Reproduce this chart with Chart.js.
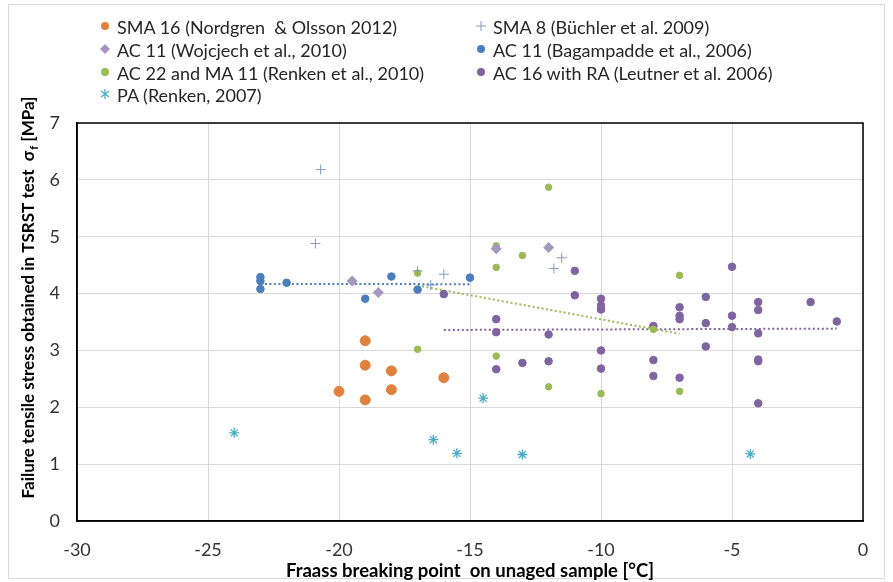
<!DOCTYPE html>
<html>
<head>
<meta charset="utf-8">
<script src="https://cdn.jsdelivr.net/npm/chart.js@4.4.0/dist/chart.umd.min.js"></script>
<style>
    body { margin: 0; background: #fff; font-family: Lato, sans-serif; }
    #wrap { position: relative; width: 893px; height: 582px; }
    #frame { position: absolute; left: 8px; top: 4px; width: 877px; height: 575px; border: 1px solid #d9d9d9; box-sizing: border-box; }
    #chart { position: absolute; left: 0; top: 0; }
    .leg { position: absolute; font-size: 18px; color: #262626; white-space: pre; line-height: 22px; }
    .leg svg { position: absolute; left: -18px; top: 4px; }
</style>
</head>
<body>
<div id="wrap">
    <div id="frame"></div>
    <canvas id="chart" width="893" height="582"></canvas>
    <div id="legend"></div>
</div>
<script>
// Series data (x = Fraass breaking point °C, y = failure stress MPa)
const sma16X = [-20, -19, -19, -19, -18, -18, -16];
const sma16Y = [2.28, 3.17, 2.74, 2.13, 2.64, 2.31, 2.52];

const sma8X = [-20.7, -20.9, -17, -16, -16.5, -11.8, -11.5];
const sma8Y = [6.18, 4.88, 4.40, 4.34, 4.15, 4.44, 4.63];

const wojcX = [-19.5, -18.5, -14, -12];
const wojcY = [4.22, 4.02, 4.79, 4.81];

const bagamX = [-23, -23, -23, -22, -19, -18, -17, -15];
const bagamY = [4.29, 4.22, 4.08, 4.19, 3.91, 4.30, 4.07, 4.28];

const ac22X = [-17, -17, -14, -14, -14, -13, -12, -12, -10, -8, -7, -7];
const ac22Y = [4.36, 3.02, 4.84, 4.46, 2.90, 4.67, 5.87, 2.36, 2.24, 3.37, 4.32, 2.28];

const ac16X = [-16, -14, -14, -14, -13, -12, -12, -11, -11, -10, -10, -10, -10, -10,
               -8, -8, -8, -7, -7, -7, -7, -6, -6, -6, -5, -5, -5,
               -4, -4, -4, -4, -4, -4, -2, -1];
const ac16Y = [3.99, 3.55, 3.32, 2.67, 2.78, 3.28, 2.81, 4.40, 3.97, 3.91, 3.79, 3.72, 3.00, 2.68,
               3.43, 2.83, 2.55, 3.76, 3.61, 3.55, 2.52, 3.94, 3.48, 3.07, 4.47, 3.61, 3.41,
               3.85, 3.71, 3.30, 2.84, 2.81, 2.07, 3.85, 3.51];

const paX = [-24, -16.4, -15.5, -14.5, -13, -4.3];
const paY = [1.55, 1.43, 1.19, 2.16, 1.17, 1.18];

const xTicks = [-30, -25, -20, -15, -10, -5, 0];
const yTicks = [0, 1, 2, 3, 4, 5, 6, 7];

const seriesLabels = [
    'SMA 16 (Nordgren  & Olsson 2012)',
    'SMA 8 (Büchler et al. 2009)',
    'AC 11 (Wojcjech et al., 2010)',
    'AC 11 (Bagampadde et al., 2006)',
    'AC 22 and MA 11 (Renken et al., 2010)',
    'AC 16 with RA (Leutner et al. 2006)',
    'PA (Renken, 2007)'
];

function toPoints(xs, ys) {
    return xs.map(function(x, i) { return { x: x, y: ys[i] }; });
}

// linear trend line over the range of the series
function trend(xs, ys) {
    var n = xs.length;
    var mx = xs.reduce(function(a, b) { return a + b; }, 0) / n;
    var my = ys.reduce(function(a, b) { return a + b; }, 0) / n;
    var sxy = 0, sxx = 0;
    for (var i = 0; i < n; i++) {
        sxy += (xs[i] - mx) * (ys[i] - my);
        sxx += (xs[i] - mx) * (xs[i] - mx);
    }
    var k = sxy / sxx;
    var x0 = Math.min.apply(null, xs), x1 = Math.max.apply(null, xs);
    return [{ x: x0, y: my + k * (x0 - mx) }, { x: x1, y: my + k * (x1 - mx) }];
}

const C_ORANGE = '#E0823D';
const C_PLUS = '#7F9CCB';
const C_DIAMOND = '#A597BE';
const C_BLUE = '#4A7EBF';
const C_GREEN = '#9BBB59';
const C_PURPLE = '#8064A2';
const C_AQUA = '#4BACC6';

const series = [
    { label: seriesLabels[0], data: toPoints(sma16X, sma16Y), pointStyle: 'circle', pointRadius: 5, borderWidth: 1, backgroundColor: C_ORANGE, borderColor: C_ORANGE },
    { label: seriesLabels[1], data: toPoints(sma8X, sma8Y), pointStyle: 'cross', pointRadius: 5, borderWidth: 1, backgroundColor: C_PLUS, borderColor: C_PLUS },
    { label: seriesLabels[2], data: toPoints(wojcX, wojcY), pointStyle: 'rectRot', pointRadius: 5.5, borderWidth: 0, backgroundColor: C_DIAMOND, borderColor: C_DIAMOND },
    { label: seriesLabels[3], data: toPoints(bagamX, bagamY), pointStyle: 'circle', pointRadius: 3.8, borderWidth: 1, backgroundColor: C_BLUE, borderColor: C_BLUE },
    { label: seriesLabels[4], data: toPoints(ac22X, ac22Y), pointStyle: 'circle', pointRadius: 3.3, borderWidth: 1, backgroundColor: C_GREEN, borderColor: C_GREEN },
    { label: seriesLabels[5], data: toPoints(ac16X, ac16Y), pointStyle: 'circle', pointRadius: 3.8, borderWidth: 1, backgroundColor: C_PURPLE, borderColor: C_PURPLE },
    { label: seriesLabels[6], data: toPoints(paX, paY), pointStyle: 'star', pointRadius: 5, borderWidth: 1.3, backgroundColor: C_AQUA, borderColor: C_AQUA }
];

const trends = [
    { data: trend(bagamX, bagamY), borderColor: C_BLUE },
    { data: trend(ac22X, ac22Y), borderColor: C_GREEN },
    { data: trend(ac16X, ac16Y), borderColor: C_PURPLE }
].map(function(t) {
    return { label: '', data: t.data, showLine: true, pointRadius: 0, borderColor: t.borderColor,
             borderWidth: 2, borderDash: [2, 2.5], order: 10 };
});

// plot frame and y title with subscript
const framePlugin = {
    id: 'framePlugin',
    afterDatasetsDraw: function(chart) {
        var a = chart.chartArea, ctx = chart.ctx;
        ctx.save();
        ctx.strokeStyle = '#000';
        ctx.lineWidth = 1.5;
        ctx.strokeRect(a.left, a.top, a.right - a.left, a.bottom - a.top);
        ctx.restore();
    },
    afterDraw: function(chart) {
        var ctx = chart.ctx;
        var main = 'Failure tensile stress obtained in TSRST test  \u03C3';
        var sub = 'f';
        var tail = ' [MPa]';
        ctx.save();
        ctx.translate(29, 298);
        ctx.rotate(-Math.PI / 2);
        ctx.fillStyle = '#000';
        ctx.textBaseline = 'middle';
        ctx.font = 'bold 17px Lato';
        var w1 = ctx.measureText(main).width;
        var w3 = ctx.measureText(tail).width;
        ctx.font = 'bold 11px Lato';
        var w2 = ctx.measureText(sub).width;
        var x = -(w1 + w2 + w3) / 2;
        ctx.font = 'bold 17px Lato';
        ctx.fillText(main, x, 0);
        ctx.font = 'bold 11px Lato';
        ctx.fillText(sub, x + w1 + 1, 5);
        ctx.font = 'bold 17px Lato';
        ctx.fillText(tail, x + w1 + w2 + 1, 0);
        ctx.restore();
    }
};

Chart.defaults.font.family = 'Lato';
Chart.defaults.font.size = 18;
Chart.defaults.color = '#333';

new Chart(document.getElementById('chart').getContext('2d'), {
    type: 'scatter',
    data: { datasets: series.concat(trends) },
    options: {
        responsive: false,
        animation: false,
        layout: { padding: { top: 123, right: 30, left: 0, bottom: 0 } },
        plugins: { legend: { display: false }, tooltip: { enabled: false } },
        scales: {
            x: {
                min: -30, max: 0,
                afterBuildTicks: function(s) { s.ticks = xTicks.map(function(v) { return { value: v }; }); },
                afterFit: function(s) { s.height = 61; },
                grid: { color: '#d9d9d9', drawTicks: false },
                border: { color: '#000', width: 1.5 },
                ticks: { padding: 18, color: '#333' },
                title: { display: true, text: 'Fraass breaking point  on unaged sample [°C]', color: '#000',
                         font: { weight: 'bold', size: 18.5 }, padding: { top: 0, bottom: 0 } }
            },
            y: {
                min: 0, max: 7,
                afterBuildTicks: function(s) { s.ticks = yTicks.map(function(v) { return { value: v }; }); },
                afterFit: function(s) { s.width = 77; },
                grid: { color: '#d9d9d9', drawTicks: false },
                border: { color: '#000', width: 1.5 },
                ticks: { padding: 17, color: '#333' }
            }
        }
    },
    plugins: [framePlugin]
});

// two-column legend like the original
const legendPos = [[117, 27], [493, 27], [117, 50], [493, 50], [117, 73], [493, 73], [117, 95]];
function markerSvg(ds) {
    var c = ds.backgroundColor, s = '';
    if (ds.pointStyle === 'circle') s = '<circle cx="6" cy="6" r="4" fill="' + c + '"/>';
    else if (ds.pointStyle === 'rectRot') s = '<polygon points="6,1 11,6 6,11 1,6" fill="' + c + '"/>';
    else if (ds.pointStyle === 'cross') s = '<path d="M6 1V11M1 6H11" stroke="' + c + '" stroke-width="1"/>';
    else s = '<path d="M6 1V11M2 3L10 9M10 3L2 9" stroke="' + c + '" stroke-width="1.3"/>';
    return '<svg width="12" height="12">' + s + '</svg>';
}
var html = '';
series.forEach(function(ds, i) {
    var p = legendPos[i];
    html += '<div class="leg" style="left:' + p[0] + 'px;top:' + (p[1] - 11) + 'px">' + markerSvg(ds) + ds.label + '</div>';
});
document.getElementById('legend').innerHTML = html;
</script>
</body>
</html>
